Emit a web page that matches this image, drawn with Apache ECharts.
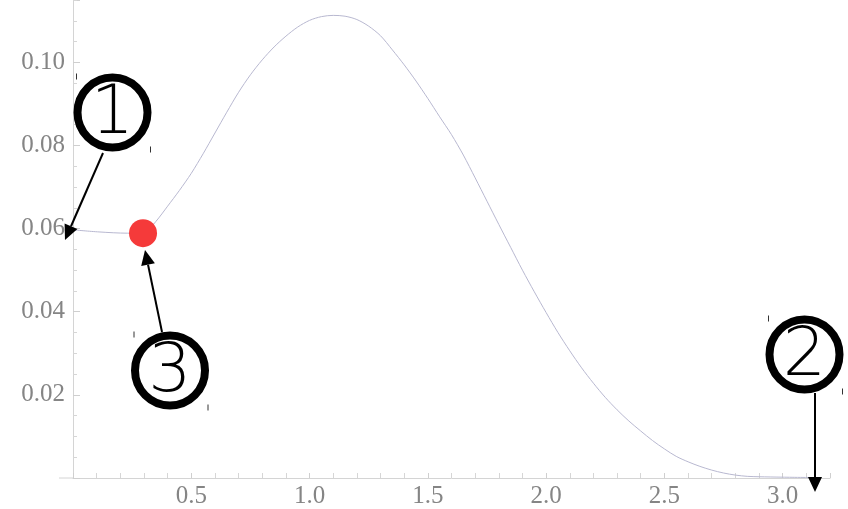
<!DOCTYPE html>
<html><head><meta charset="utf-8">
<script src="https://cdn.jsdelivr.net/npm/echarts@6/dist/echarts.min.js"></script>
<style>html,body{margin:0;padding:0;background:#fff}#c{width:848px;height:509px}</style>
</head><body><div id="c"></div>
<script>
const xValues = [0, 0.11, 0.23, 0.30, 0.35, 0.40, 0.45, 0.50, 0.55, 0.60, 0.65, 0.70, 0.75, 0.80, 0.85, 0.90, 0.95, 1.00, 1.05, 1.10, 1.15, 1.20, 1.25, 1.30, 1.35, 1.40, 1.45, 1.50, 1.55, 1.60, 1.65, 1.70, 1.75, 1.80, 1.85, 1.90, 1.95, 2.00, 2.05, 2.10, 2.15, 2.20, 2.25, 2.30, 2.35, 2.40, 2.45, 2.50, 2.55, 2.60, 2.65, 2.70, 2.75, 2.80, 2.85, 2.90, 3.00, 3.14];
const yValues = [0.0597, 0.0592, 0.0589, 0.0589, 0.0617, 0.0654, 0.0692, 0.0733, 0.0780, 0.0830, 0.0880, 0.0928, 0.0970, 0.1006, 0.1037, 0.1063, 0.1085, 0.1101, 0.1110, 0.1113, 0.1111, 0.1103, 0.1087, 0.1064, 0.1030, 0.0994, 0.0955, 0.0913, 0.0869, 0.0826, 0.0777, 0.0722, 0.0666, 0.0610, 0.0555, 0.0500, 0.0448, 0.0398, 0.0350, 0.0306, 0.0265, 0.0228, 0.0194, 0.0164, 0.0137, 0.0113, 0.0090, 0.0070, 0.0052, 0.0039, 0.0028, 0.0019, 0.0012, 0.0007, 0.0004, 0.0003, 0.0002, 0.0001];
const highlightPoint = [0.296, 0.0589];
const xTickLabels = ['0.5', '1.0', '1.5', '2.0', '2.5', '3.0'];
const yTickLabels = ['0.02', '0.04', '0.06', '0.08', '0.10'];
const calloutLabels = ['1', '2', '3'];

const chart = echarts.init(document.getElementById('c'), null, {renderer: 'canvas'});
const labelFont = {fontFamily: '"Liberation Serif", "Times New Roman", serif', fontSize: 25, color: '#858585'};

chart.setOption({
  animation: false,
  backgroundColor: '#fff',
  grid: {left: 73, right: 18, top: 0, bottom: 30, containLabel: false},
  xAxis: {
    type: 'value', min: 0, max: 3.2, interval: 0.5,
    axisLine: {show: true, onZero: true, lineStyle: {color: '#d4d4d4', width: 1}},
    axisTick: {show: true, inside: true, length: 5, lineStyle: {color: '#cfcfcf'}},
    minorTick: {show: true, splitNumber: 5, length: 5, lineStyle: {color: '#d6d6d6'}},
    splitLine: {show: false},
    axisLabel: Object.assign({margin: 6, showMaxLabel: false,
      formatter: v => { const s = v.toFixed(1); return xTickLabels.includes(s) ? s : ''; }}, labelFont)
  },
  yAxis: {
    type: 'value', min: 0, max: 0.115, interval: 0.02,
    axisLine: {show: true, onZero: true, lineStyle: {color: '#d4d4d4', width: 1}},
    axisTick: {show: true, inside: true, length: 7, lineStyle: {color: '#cfcfcf'}},
    minorTick: {show: true, splitNumber: 4, length: 4, lineStyle: {color: '#d6d6d6'}},
    splitLine: {show: false},
    axisLabel: Object.assign({margin: 8, showMaxLabel: false,
      formatter: v => { const s = v.toFixed(2); return yTickLabels.includes(s) ? s : ''; }}, labelFont)
  },
  series: [
    {
      type: 'line', data: xValues.map((x, i) => [x, yValues[i]]),
      smooth: 0.3, showSymbol: false, symbol: 'none',
      lineStyle: {color: '#b8b8d0', width: 1}, z: 2
    },
    {
      type: 'scatter', data: [highlightPoint], symbolSize: 28,
      itemStyle: {color: '#f53a3a', opacity: 1}, z: 5
    }
  ]
});

// annotation overlays
const origin = chart.convertToPixel({gridIndex: 0}, [0, 0]);
const callouts = [
  {label: calloutLabels[0], cx: 112.5, cy: 112.5, from: [103, 153], to: [65, 240]},
  {label: calloutLabels[1], cx: 804.5, cy: 354.5, from: [815, 393], to: [815, 492]},
  {label: calloutLabels[2], cx: 170, cy: 370.5, from: [162, 332], to: [145, 250]}
];
const elements = [
  {type: 'line', shape: {x1: origin[0] - 14, y1: origin[1], x2: origin[0], y2: origin[1]},
   style: {stroke: '#d4d4d4', lineWidth: 1}, z: 1}
];
callouts.forEach(c => {
  elements.push({type: 'circle', shape: {cx: c.cx, cy: c.cy, r: 35},
    style: {fill: 'none', stroke: '#000', lineWidth: 8}, z: 10});
  elements.push({type: 'text', x: c.cx, y: c.cy + 3,
    style: {text: c.label, fontFamily: '"DejaVu Sans"', fontWeight: 200, fontSize: 68,
      fill: '#000', align: 'center', verticalAlign: 'middle'}, z: 10});
  elements.push({type: 'line', shape: {x1: c.cx - 36, y1: c.cy - 39, x2: c.cx - 36, y2: c.cy - 33},
    style: {stroke: '#333', lineWidth: 1}, z: 10});
  elements.push({type: 'line', shape: {x1: c.cx + 38, y1: c.cy + 34, x2: c.cx + 38, y2: c.cy + 40},
    style: {stroke: '#333', lineWidth: 1}, z: 10});
  const dx = c.to[0] - c.from[0], dy = c.to[1] - c.from[1];
  const len = Math.hypot(dx, dy), ux = dx / len, uy = dy / len;
  const headL = 15, headW = 7;
  const bx = c.to[0] - ux * headL, by = c.to[1] - uy * headL;
  elements.push({type: 'line', shape: {x1: c.from[0], y1: c.from[1], x2: bx, y2: by},
    style: {stroke: '#000', lineWidth: 2}, z: 10});
  elements.push({type: 'polygon', shape: {points: [
    [c.to[0], c.to[1]], [bx - uy * headW, by + ux * headW], [bx + uy * headW, by - ux * headW]]},
    style: {fill: '#000'}, z: 10});
});
chart.setOption({graphic: {elements}});
</script>
</body></html>
